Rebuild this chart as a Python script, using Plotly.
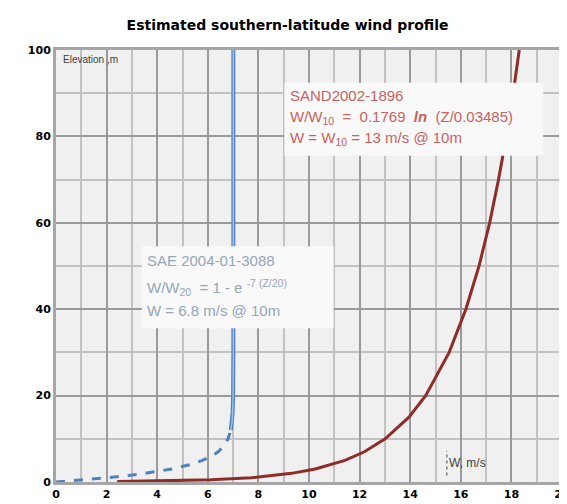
import plotly.graph_objects as go

# Blue: SAE 2004-01-3088 profile (elevation m, wind speed m/s)
sae_z = [0, 0.25, 0.5, 1, 1.5, 2, 3, 4, 5, 6, 7, 8, 10, 12, 14, 16, 20, 30, 100]
sae_w = [0, 0.59, 1.13, 2.07, 2.86, 3.53, 4.56, 5.28, 5.79, 6.15, 6.41, 6.58, 6.80, 6.91, 6.96, 6.98, 7.00, 7.01, 7.01]

# Red: SAND2002-1896 profile
sand_z = [0.1, 0.2, 0.5, 1, 2, 3, 5, 7, 10, 15, 20, 30, 40, 50, 60, 70, 80, 90, 100]
sand_w = [2.42, 4.02, 6.13, 7.72, 9.31, 10.25, 11.42, 12.19, 13.01, 13.95, 14.61, 15.54, 16.20, 16.72, 17.14, 17.49, 17.80, 18.07, 18.31]

x_ticks = [0, 2, 4, 6, 8, 10, 12, 14, 16, 18, 20]
y_ticks = [0, 20, 40, 60, 80, 100]

split = sae_z.index(12)

fig = go.Figure()
fig.add_trace(go.Scatter(x=sae_w[:split + 1], y=sae_z[:split + 1], mode="lines",
                         line=dict(color="#4f81bd", width=3, dash="dash"), showlegend=False))
fig.add_trace(go.Scatter(x=sae_w[split:], y=sae_z[split:], mode="lines",
                         line=dict(color="#4f81bd", width=4), showlegend=False))
fig.add_trace(go.Scatter(x=sae_w[split:], y=sae_z[split:], mode="lines",
                         line=dict(color="#9cc0e8", width=1.5), showlegend=False))
fig.add_trace(go.Scatter(x=sand_w, y=sand_z, mode="lines",
                         line=dict(color="#8e2c2a", width=3), showlegend=False))

# opaque text boxes
fig.add_shape(type="rect", xref="x", yref="y", x0=9.03, x1=19.26, y0=75.5, y1=92.4,
              fillcolor="#f9f9f9", line=dict(width=0), layer="above")
fig.add_shape(type="rect", xref="x", yref="y", x0=3.39, x1=10.97, y0=35.6, y1=54.6,
              fillcolor="#f9f9f9", line=dict(width=0), layer="above")

red = "#c8625f"
blue_t = "#94a6ba"
f = "Liberation Sans, Arial, sans-serif"
ann = [
    dict(x=9.15, y=89.4, text="SAND2002-1896", color=red),
    dict(x=9.15, y=84.3, text="W/W<sub>10</sub>  =  0.1769  <b><i>ln</i></b>  (Z/0.03485)", color=red),
    dict(x=9.15, y=79.4, text="W = W<sub>10</sub> = 13 m/s @ 10m", color=red),
    dict(x=3.52, y=51.2, text="SAE 2004-01-3088", color=blue_t),
    dict(x=3.52, y=45.1, text="W/W<sub>20</sub>  = 1 - e <sup>-7 (Z/20)</sup>", color=blue_t),
    dict(x=3.52, y=39.6, text="W = 6.8 m/s @ 10m", color=blue_t),
]
for a in ann:
    fig.add_annotation(x=a["x"], y=a["y"], xref="x", yref="y", text=a["text"], showarrow=False,
                       xanchor="left", yanchor="middle", font=dict(family=f, size=15, color=a["color"]))

fig.add_annotation(x=0.2, y=97.7, xref="x", yref="y", text="Elevation ,m", showarrow=False,
                   xanchor="left", yanchor="middle", font=dict(family=f, size=10, color="#404040"))
fig.add_annotation(x=15.45, y=4.4, xref="x", yref="y", text="W, m/s", showarrow=False,
                   xanchor="left", yanchor="middle", font=dict(family=f, size=12, color="#404040"))
fig.add_shape(type="line", xref="x", yref="y", x0=15.45, x1=15.45, y0=1.5, y1=7.2,
              line=dict(color="#404040", width=1, dash="dot"))

axis_common = dict(showline=True, mirror=True, linecolor="#a6a6a6", linewidth=3,
                   gridcolor="#9a9a9a", gridwidth=2, zeroline=False, ticks="",
                   tickfont=dict(family="DejaVu Sans", size=11, color="#000000", weight="bold"))

fig.update_xaxes(range=[0, 20], tickvals=x_ticks, ticktext=[str(v) for v in x_ticks],
                 minor=dict(dtick=1, showgrid=True, gridcolor="#c2c2c2", gridwidth=1.5, tick0=0),
                 **axis_common)
fig.update_yaxes(range=[0, 100], tickvals=y_ticks, ticktext=[str(v) for v in y_ticks],
                 minor=dict(dtick=10, showgrid=True, gridcolor="#c2c2c2", gridwidth=1.5, tick0=0),
                 **axis_common)

fig.update_layout(
    width=567, height=504,
    margin=dict(l=48, r=5, t=42, b=30),
    plot_bgcolor="#f0f0f0", paper_bgcolor="#ffffff",
    title=dict(text="<b>Estimated southern-latitude wind profile</b>", x=0.493, y=0.966,
               xanchor="center", yanchor="middle",
               font=dict(family="DejaVu Sans", size=14, color="#000000")),
)

fig.write_html("out.html")
